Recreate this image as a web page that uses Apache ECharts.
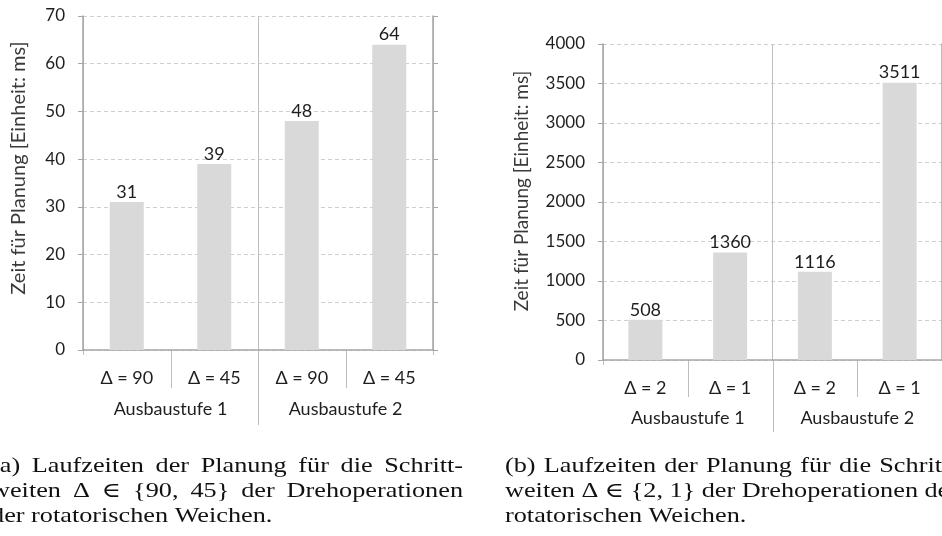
<!DOCTYPE html>
<html>
<head>
<meta charset="utf-8">
<script src="https://cdn.jsdelivr.net/npm/echarts/dist/echarts.min.js"></script>
<style>
  html, body { margin: 0; padding: 0; background: #ffffff; }
  #chart { width: 942px; height: 536px; }
</style>
</head>
<body>
<div id="chart"></div>
<script>
// Step-width categories for both panels and the stage groups below them
const stepsA = ['Δ = 90', 'Δ = 45', 'Δ = 90', 'Δ = 45'];
const stepsB = ['Δ = 2', 'Δ = 1', 'Δ = 2', 'Δ = 1'];
const stages = ['Ausbaustufe 1', 'Ausbaustufe 2'];

// Planning times in ms
const timesA = [31, 39, 48, 64];
const timesB = [508, 1360, 1116, 3511];

// Value-axis ranges
const scaleA = { min: 0, max: 70, interval: 10 };
const scaleB = { min: 0, max: 4000, interval: 500 };

const yTitle = 'Zeit für Planung [Einheit: ms]';

// Figure captions, one entry per line
const captionA = [
  { text: '(a) Laufzeiten der Planung für die Schritt-', justify: true },
  { text: 'weiten Δ ∈ {90, 45} der Drehoperationen', justify: true },
  { text: 'der rotatorischen Weichen.', justify: false }
];
const captionB = [
  { text: '(b) Laufzeiten der Planung für die Schritt-', justify: true },
  { text: 'weiten Δ ∈ {2, 1} der Drehoperationen der', justify: true },
  { text: 'rotatorischen Weichen.', justify: false }
];

const FONT = 'Lato, "Open Sans", sans-serif';
const AXIS_COLOR = '#a6a6a6';
const GRID_COLOR = '#cfcfcf';
const TEXT_COLOR = '#1e1e1e';
const BAR_COLOR = '#d9d9d9';

const chart = echarts.init(document.getElementById('chart'), null, { renderer: 'canvas' });

function stepAxis(gridIndex, data, margin) {
  return {
    type: 'category', gridIndex, data, position: 'bottom',
    axisLine: { show: true, lineStyle: { color: AXIS_COLOR, width: 1.5 } },
    axisTick: { show: false },
    axisLabel: { margin, fontFamily: FONT, fontSize: 18, color: TEXT_COLOR },
    splitLine: { show: false }
  };
}
function stageAxis(gridIndex, margin) {
  return {
    type: 'category', gridIndex, data: stages, position: 'bottom',
    axisLine: { show: false },
    axisTick: { show: false },
    axisLabel: { margin, fontFamily: FONT, fontSize: 18, color: TEXT_COLOR },
    splitLine: { show: true, lineStyle: { color: '#bdbdbd', width: 1 } }
  };
}
// nameShift moves the rotated title up along the axis
function valueAxis(gridIndex, sc, nameGap, nameSize, nameShift) {
  return {
    type: 'value', gridIndex, position: 'left',
    min: sc.min, max: sc.max, interval: sc.interval,
    axisLine: { show: true, lineStyle: { color: AXIS_COLOR, width: 1.5 } },
    axisTick: { show: true, length: 5, lineStyle: { color: AXIS_COLOR } },
    axisLabel: { margin: 18, fontFamily: FONT, fontSize: 17, color: TEXT_COLOR, formatter: v => String(v) },
    splitLine: { show: true, lineStyle: { color: GRID_COLOR, type: [4, 3] } },
    name: yTitle, nameLocation: 'middle', nameRotate: 90, nameGap,
    nameTextStyle: { fontFamily: FONT, fontSize: nameSize, color: '#3a3a3a', padding: [0, 0, 0, nameShift * 2] }
  };
}
function frameAxis(gridIndex, sc) {
  return {
    type: 'value', gridIndex, position: 'right',
    min: sc.min, max: sc.max, interval: sc.interval,
    axisLine: { show: true, lineStyle: { color: AXIS_COLOR, width: 1.5 } },
    axisTick: { show: true, length: 5, lineStyle: { color: AXIS_COLOR } },
    axisLabel: { show: false },
    splitLine: { show: false }
  };
}
function barSeries(xAxisIndex, yAxisIndex, data) {
  return {
    type: 'bar', xAxisIndex, yAxisIndex, data,
    barWidth: 34, silent: true,
    itemStyle: { color: BAR_COLOR },
    label: { show: true, position: 'top', distance: 1, fontFamily: FONT, fontSize: 18, color: TEXT_COLOR }
  };
}

chart.setOption({
  animation: false,
  backgroundColor: '#ffffff',
  grid: [
    { left: 83, top: 16, width: 350, height: 334 },
    { left: 603, top: 44, width: 346, height: 316 }
  ],
  xAxis: [stepAxis(0, stepsA, 19), stageAxis(0, 50), stepAxis(1, stepsB, 19), stageAxis(1, 49)],
  yAxis: [valueAxis(0, scaleA, 54, 20, 15), frameAxis(0, scaleA), valueAxis(1, scaleB, 72, 19, 11), frameAxis(1, scaleB)],
  series: [barSeries(0, 0, timesA), barSeries(2, 2, timesB)]
});

// Category separators below each axis, placed from the axis scales
function separators(xAxisIndex, yAxisIndex, subLen, groupLen) {
  const c0 = chart.convertToPixel({ xAxisIndex }, 0);
  const c1 = chart.convertToPixel({ xAxisIndex }, 1);
  const band = c1 - c0;
  const y0 = chart.convertToPixel({ yAxisIndex }, 0);
  const out = [];
  for (let i = 0; i <= 4; i++) {
    const x = Math.round(c0 - band / 2 + i * band) + 0.5;
    const len = (i === 0 || i === 4) ? 5 : (i === 2 ? groupLen : subLen);
    out.push({
      type: 'line', silent: true,
      shape: { x1: x, y1: y0, x2: x, y2: y0 + len },
      style: { stroke: '#bdbdbd', lineWidth: 1 }
    });
  }
  return out;
}

// Justified caption text, word by word, with the serif face widened a little
const CAPTION_FONT = "21px 'Liberation Serif', 'DejaVu Serif', serif";
const CAPTION_STRETCH = 1.25;
const measureCtx = document.createElement('canvas').getContext('2d');
measureCtx.font = CAPTION_FONT;
function captionBlock(lines, left, right, firstY, lineGap) {
  const out = [];
  const space = measureCtx.measureText(' ').width * CAPTION_STRETCH;
  lines.forEach((ln, i) => {
    const words = ln.text.split(' ');
    const widths = words.map(w => measureCtx.measureText(w).width * CAPTION_STRETCH);
    const total = widths.reduce((a, b) => a + b, 0);
    const gap = (ln.justify && words.length > 1) ? (right - left - total) / (words.length - 1) : space;
    let x = left;
    words.forEach((w, j) => {
      out.push({
        type: 'text', silent: true, x, y: firstY + i * lineGap, scaleX: CAPTION_STRETCH,
        style: { text: w, font: CAPTION_FONT, fill: '#111111', verticalAlign: 'middle' }
      });
      x += widths[j] + gap;
    });
  });
  return out;
}

chart.setOption({
  graphic: [].concat(
    separators(0, 0, 38, 75),
    separators(2, 2, 37, 72),
    captionBlock(captionA, -9, 463, 466, 25),
    captionBlock(captionB, 505, 958, 466, 25)
  )
});
</script>
</body>
</html>
